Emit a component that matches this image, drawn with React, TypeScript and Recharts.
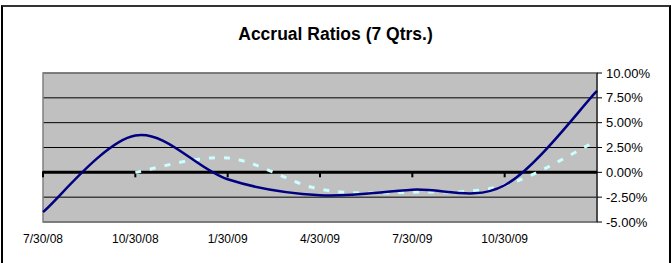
import {
  LineChart,
  Line,
  XAxis,
  YAxis,
  CartesianGrid,
  ReferenceLine,
  ReferenceArea,
} from 'recharts';

const quarters = ['7/30/08', '10/30/08', '1/30/09', '4/30/09', '7/30/09', '10/30/09', '1/30/10'];
const accrualRatio = [-4.0, 3.7, -0.7, -2.3, -1.75, -1.3, 8.2];
const accrualRatioAlt = [null, 0.0, 1.45, -1.7, -2.0, -1.3, 3.2];
const yTicks = [-5, -2.5, 0, 2.5, 5, 7.5, 10];

const FONT = 'Arial, "Liberation Sans", sans-serif';

const data = quarters.map((q, i) => ({
  quarter: q,
  ratio: accrualRatio[i],
  alt: accrualRatioAlt[i],
}));

// Excel-style smoothed line (Catmull-Rom bezier through the points)
type Ctx = {
  moveTo: (x: number, y: number) => void;
  bezierCurveTo: (a: number, b: number, c: number, d: number, e: number, f: number) => void;
};

function excelSmooth(context: Ctx) {
  let pts: [number, number][] = [];
  return {
    areaStart() {},
    areaEnd() {},
    lineStart() {
      pts = [];
    },
    lineEnd() {
      if (!pts.length) return;
      context.moveTo(pts[0][0], pts[0][1]);
      for (let i = 0; i < pts.length - 1; i++) {
        const p0 = pts[i - 1] || pts[i];
        const p1 = pts[i];
        const p2 = pts[i + 1];
        const p3 = pts[i + 2] || p2;
        context.bezierCurveTo(
          p1[0] + (p2[0] - p0[0]) / 6,
          p1[1] + (p2[1] - p0[1]) / 6,
          p2[0] - (p3[0] - p1[0]) / 6,
          p2[1] - (p3[1] - p1[1]) / 6,
          p2[0],
          p2[1],
        );
      }
    },
    point(x: number, y: number) {
      pts.push([+x, +y]);
    },
  };
}

export default function App() {
  return (
    <div
      style={{
        position: 'absolute',
        left: 0,
        top: 0,
        width: 671,
        height: 263,
        overflow: 'hidden',
        background: '#fff',
        fontFamily: FONT,
      }}
    >
      <div
        style={{
          position: 'absolute',
          left: 1,
          top: 5,
          width: 666,
          height: 280,
          border: '2px solid #000',
          borderTopColor: '#333',
        }}
      />
      <div
        style={{
          position: 'absolute',
          left: 0,
          top: 24,
          width: 671,
          textAlign: 'center',
          fontSize: 17.5,
          lineHeight: '20px',
          fontWeight: 'bold',
          color: '#000',
        }}
      >
        Accrual Ratios (7 Qtrs.)
      </div>
      <div style={{ position: 'absolute', left: 0, top: 0 }}>
        <LineChart
          width={671}
          height={263}
          data={data}
          margin={{ top: 73, left: 43, right: 0, bottom: 11 }}
        >
          <CartesianGrid vertical={false} stroke="#000" fill="#C0C0C0" fillOpacity={1} />
          <ReferenceArea
            x1={quarters[0]}
            x2={quarters[quarters.length - 1]}
            y1={-5}
            y2={10}
            fill="none"
            stroke="#808080"
            strokeWidth={1.5}
            ifOverflow="visible"
          />
          <XAxis
            dataKey="quarter"
            axisLine={false}
            tickLine={false}
            height={30}
            interval={0}
            tick={{ fill: '#000', fontSize: 12, fontFamily: FONT }}
            tickFormatter={(v: string, i: number) => (i === quarters.length - 1 ? '' : v)}
            dy={4}
          />
          <YAxis
            orientation="right"
            domain={[-5, 10]}
            ticks={yTicks}
            interval={0}
            width={74}
            axisLine={{ stroke: '#000', strokeWidth: 1 }}
            tickLine={{ stroke: '#000' }}
            tickSize={5}
            tickMargin={4}
            tick={{ fill: '#000', fontSize: 13, fontFamily: FONT }}
            tickFormatter={(v: number) => `${v.toFixed(2)}%`}
          />
          <ReferenceLine y={0} stroke="#000" strokeWidth={3} />
          {quarters.slice(0, -1).map((q) => (
            <ReferenceLine
              key={q}
              segment={[
                { x: q, y: 0.1 },
                { x: q, y: -0.5 },
              ]}
              stroke="#000"
              strokeWidth={2}
            />
          ))}
          <Line
            type={excelSmooth as any}
            dataKey="alt"
            stroke="#CCFFFF"
            strokeWidth={3}
            strokeDasharray="6 9"
            dot={false}
            activeDot={false}
            isAnimationActive={false}
          />
          <Line
            type={excelSmooth as any}
            dataKey="ratio"
            stroke="#000080"
            strokeWidth={2.5}
            dot={false}
            activeDot={false}
            isAnimationActive={false}
          />
        </LineChart>
      </div>
    </div>
  );
}
